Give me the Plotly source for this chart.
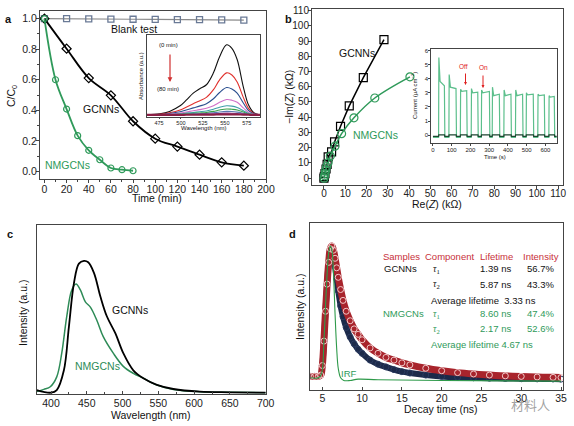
import plotly.graph_objects as go

W, H = 574, 426
def px(x): return x / W
def py(y): return 1 - y / H

FONT = "Arial, Liberation Sans, sans-serif"
GREEN = "#2f9a5a"
RED = "#c8303a"

# ---------------- Panel a data ----------------
time_blank = [0, 20, 40, 60, 80, 100, 120, 140, 160, 180]
cc_blank = [1.0, 1.0, 0.998, 0.997, 0.996, 0.995, 0.994, 0.993, 0.992, 0.99]
time_gcnn = [0, 20, 40, 60, 80, 100, 120, 140, 160, 180]
cc_gcnn = [1.0, 0.803, 0.611, 0.498, 0.328, 0.214, 0.162, 0.109, 0.059, 0.037]
time_nmg = [0, 10, 20, 30, 40, 50, 60, 70, 80]
cc_nmg = [1.0, 0.60, 0.408, 0.234, 0.138, 0.076, 0.022, 0.011, 0.004]

# inset a: absorbance spectra 0..80 min
wl_abs = [461, 476, 487, 499, 506, 514, 521, 529, 537, 544, 552, 558, 564, 571, 577, 583, 590]
abs_spectra = {
    "0 min":  [0, 0.015, 0.05, 0.13, 0.21, 0.31, 0.37, 0.43, 0.6, 0.83, 1.0, 0.95, 0.79, 0.40, 0.14, 0.03, 0],
    "10 min": [0, 0.01, 0.03, 0.07, 0.11, 0.16, 0.2, 0.25, 0.36, 0.5, 0.6, 0.57, 0.47, 0.25, 0.09, 0.02, 0],
    "20 min": [0, 0.005, 0.02, 0.045, 0.07, 0.1, 0.125, 0.16, 0.23, 0.32, 0.39, 0.37, 0.31, 0.17, 0.06, 0.015, 0],
    "30 min": [0, 0.003, 0.01, 0.025, 0.04, 0.06, 0.075, 0.095, 0.13, 0.18, 0.22, 0.21, 0.18, 0.1, 0.035, 0.01, 0],
    "40 min": [0, 0, 0.006, 0.015, 0.025, 0.035, 0.045, 0.055, 0.08, 0.11, 0.13, 0.125, 0.105, 0.06, 0.02, 0.005, 0],
    "50 min": [0, 0, 0.004, 0.01, 0.016, 0.022, 0.028, 0.035, 0.05, 0.07, 0.085, 0.08, 0.07, 0.04, 0.015, 0.004, 0],
    "60 min": [0, 0, 0.002, 0.006, 0.01, 0.013, 0.017, 0.021, 0.03, 0.042, 0.05, 0.048, 0.04, 0.024, 0.009, 0.002, 0],
    "70 min": [0, 0, 0.001, 0.003, 0.005, 0.007, 0.009, 0.011, 0.015, 0.021, 0.025, 0.024, 0.02, 0.012, 0.005, 0.001, 0],
    "80 min": [0, 0, 0, 0.001, 0.002, 0.002, 0.003, 0.004, 0.005, 0.007, 0.008, 0.008, 0.007, 0.004, 0.002, 0, 0],
}
abs_colors = ["#111111", "#e0302c", "#2a4f8f", "#d070c8", "#3f9fa8", "#3aa04a", "#5a78b0", "#8a3a9a", "#8a1f45"]

# ---------------- Panel b data ----------------
re_gcnn = [0, 0.2, 0.5, 1.0, 1.5, 2.0, 3.6, 5.0, 7.8, 11.9, 18.5, 28.2]
im_gcnn = [0, 1, 3, 6, 9, 14, 17.3, 23.8, 34, 47.4, 66, 90.9]
re_nmg = [0.1, 0.3, 0.5, 0.8, 1.25, 2.0, 3.0, 5.2, 8.3, 14.1, 23.9, 40.4]
im_nmg = [0, 1.5, 3, 5, 7.5, 10.2, 14.5, 21, 29.2, 39.6, 52.6, 66.5]

# inset b: photocurrent on/off cycles (read per cycle)
on_times = [30, 85, 146, 204, 258, 316, 378, 440, 497, 559, 618]
off_times = [62, 124, 181, 240, 302, 355, 417, 479, 536, 595, 648]
spike_vals = [5.5, 4.3, 3.25, 3.3, 3.2, 3.4, 3.2, 3.2, 3.0, 2.9, 2.8]
mid_vals = [3.8, 3.4, 3.1, 3.0, 3.0, 2.8, 2.8, 2.8, 2.85, 2.8, 2.7]
end_vals = [3.5, 3.3, 3.15, 3.05, 3.1, 2.9, 2.9, 2.9, 2.9, 2.85, 2.75]
base_light = -0.15
base_dark_off = -0.08
base_dark_on = 0.03
t_end = 665

# ---------------- Panel c data ----------------
wl_pl_g = [380, 400, 408, 418, 425, 432, 439, 446, 452, 460, 469, 478, 490, 501, 515, 529, 548, 571, 608, 650, 700]
pl_gcnn = [0.02, 0.0, 0.02, 0.17, 0.5, 0.83, 0.98, 1.0, 0.99, 0.91, 0.73, 0.58, 0.45, 0.3, 0.17, 0.11, 0.06, 0.028, 0.008, 0.003, 0.0]
wl_pl_n = [380, 390, 399, 408, 415, 422, 429, 435, 441, 448, 455, 464, 473, 487, 501, 515, 529, 548, 571, 608, 650, 700]
pl_nmg = [0.008, 0.025, 0.045, 0.12, 0.3, 0.58, 0.78, 0.825, 0.78, 0.69, 0.65, 0.55, 0.425, 0.3, 0.2, 0.147, 0.11, 0.058, 0.025, 0.008, 0.003, 0.0]

# ---------------- Panel d data ----------------
t_decay = [3.5, 4.0, 4.5, 4.8, 5.0, 5.2, 5.4, 5.6, 5.8, 6.0, 6.2, 6.4, 6.6, 6.8, 7.0, 7.3, 7.6, 8.0, 8.5, 9.0, 9.5, 10.0, 11.0, 12.0, 13.0, 14.0, 15.0, 16.0, 18.0, 20.0, 22.0, 24.0, 26.0, 28.0, 30.0, 32.0, 34.0, 35.0]
dec_nmg = [0.04, 0.04, 0.04, 0.05, 0.12, 0.3, 0.52, 0.72, 0.88, 0.98, 1.0, 0.97, 0.91, 0.84, 0.77, 0.68, 0.6, 0.52, 0.45, 0.39, 0.35, 0.31, 0.25, 0.21, 0.18, 0.16, 0.14, 0.125, 0.1, 0.082, 0.068, 0.058, 0.05, 0.044, 0.04, 0.036, 0.033, 0.032]
dec_gcnn = [0.04, 0.04, 0.04, 0.05, 0.12, 0.3, 0.52, 0.72, 0.88, 0.97, 0.98, 0.93, 0.85, 0.76, 0.67, 0.56, 0.48, 0.4, 0.33, 0.28, 0.24, 0.21, 0.16, 0.13, 0.11, 0.09, 0.075, 0.065, 0.05, 0.04, 0.034, 0.03, 0.027, 0.025, 0.023, 0.022, 0.021, 0.02]
t_irf = [3.5, 4.5, 4.9, 5.2, 5.5, 5.8, 6.0, 6.2, 6.4, 6.6, 6.8, 7.0, 7.3, 7.7, 8.5, 9.5, 12, 20, 35]
irf = [0.03, 0.03, 0.06, 0.3, 0.68, 0.95, 1.0, 0.97, 0.8, 0.5, 0.25, 0.1, 0.03, 0.01, 0.01, 0.02, 0.015, 0.01, 0.005]

fig = go.Figure()

# ---- panel a ----
fig.add_trace(go.Scatter(x=time_blank, y=cc_blank, mode="lines+markers", xaxis="x", yaxis="y",
    line=dict(color="#8a8a8a", width=1.2),
    marker=dict(symbol="square-open", size=6, color="#6a7a96", line=dict(width=1.3))))
fig.add_trace(go.Scatter(x=time_gcnn, y=cc_gcnn, mode="lines+markers", xaxis="x", yaxis="y",
    line=dict(color="black", width=1.8, shape="spline"),
    marker=dict(symbol="diamond-open", size=7, color="black", line=dict(width=1.2))))
fig.add_trace(go.Scatter(x=time_nmg, y=cc_nmg, mode="lines+markers", xaxis="x", yaxis="y",
    line=dict(color=GREEN, width=1.8, shape="spline"),
    marker=dict(symbol="circle-open", size=6, color=GREEN, line=dict(width=1.2))))

# ---- inset a ----
for (name, vals), col in zip(abs_spectra.items(), abs_colors):
    fig.add_trace(go.Scatter(x=wl_abs, y=vals, mode="lines", xaxis="x2", yaxis="y2",
        line=dict(color=col, width=2.2 if name == "80 min" else 1.1, shape="spline")))

# ---- panel b ----
fig.add_trace(go.Scatter(x=re_gcnn, y=im_gcnn, mode="lines+markers", xaxis="x3", yaxis="y3",
    line=dict(color="black", width=1.5),
    marker=dict(symbol="square-open", size=8, color="black", line=dict(width=1.2))))
fig.add_trace(go.Scatter(x=re_nmg, y=im_nmg, mode="lines+markers", xaxis="x3", yaxis="y3",
    line=dict(color=GREEN, width=1.5, shape="spline"),
    marker=dict(symbol="circle-open", size=8, color=GREEN, line=dict(width=1.2))))

# ---- inset b ----
tl, vl, td, vd = [0], [base_light], [0], [base_dark_off]
for on, off, sp, md, en in zip(on_times, off_times, spike_vals, mid_vals, end_vals):
    tl += [on, on + 1.5, on + 8, off - 1, off + 1.5]
    vl += [base_light, sp, md, en, base_light]
    td += [on, on + 1, off, off + 1]
    vd += [base_dark_off, base_dark_on, base_dark_on, base_dark_off]
tl.append(t_end); vl.append(base_light)
td.append(t_end); vd.append(base_dark_off)
fig.add_trace(go.Scatter(x=tl, y=vl, mode="lines", xaxis="x4", yaxis="y4",
    line=dict(color="#5cbf8c", width=1.2)))
fig.add_trace(go.Scatter(x=td, y=vd, mode="lines", xaxis="x4", yaxis="y4",
    line=dict(color="#1d4630", width=1.2)))

# ---- panel c ----
fig.add_trace(go.Scatter(x=wl_pl_n, y=pl_nmg, mode="lines", xaxis="x5", yaxis="y5",
    line=dict(color="#2e8b57", width=1.5, shape="spline")))
fig.add_trace(go.Scatter(x=wl_pl_g, y=pl_gcnn, mode="lines", xaxis="x5", yaxis="y5",
    line=dict(color="black", width=1.8, shape="spline")))

# ---- panel d ----
fig.add_trace(go.Scatter(x=t_decay, y=dec_gcnn, mode="lines+markers", xaxis="x6", yaxis="y6",
    line=dict(color="#1c2a4a", width=6, shape="spline"),
    marker=dict(symbol="circle-open", size=6, color="#2a3a60", line=dict(width=1))))
fig.add_trace(go.Scatter(x=t_decay, y=dec_nmg, mode="lines+markers", xaxis="x6", yaxis="y6",
    line=dict(color="#a8242c", width=7, shape="spline"),
    marker=dict(symbol="circle-open", size=6, color="#f0c8c8", line=dict(width=1))))
fig.add_trace(go.Scatter(x=t_irf, y=irf, mode="lines", xaxis="x6", yaxis="y6",
    line=dict(color="#2e9a4a", width=1.1, shape="spline")))

def ax(domain, rng, dtick=None, size=10.5, ticks="outside", showlabels=True, anchor=None,
       ticklen=3, minor=None, tickvals=None, standoff=-3):
    d = dict(domain=domain, range=rng, showline=True, mirror=True, linecolor="#444", linewidth=1,
             showgrid=False, zeroline=False, ticks=ticks, automargin=False,
             ticklen=ticklen, tickcolor="#444", tickfont=dict(size=size, color="#222", family=FONT),
             showticklabels=showlabels, anchor=anchor, ticklabelstandoff=standoff)
    if dtick is not None:
        d["dtick"] = dtick
        d["tick0"] = 0
    if tickvals is not None:
        d["tickvals"] = tickvals
    if minor:
        d["minor"] = dict(dtick=minor, ticks=ticks, ticklen=2, tickcolor="#444")
    return d

layout = dict(
    width=W, height=H, margin=dict(l=0, r=0, t=0, b=0),
    paper_bgcolor="white", plot_bgcolor="rgba(0,0,0,0)", showlegend=False,
    font=dict(family=FONT, color="#222"),
)
layout["xaxis"] = ax([px(40), px(266)], [-4, 200], 20, anchor="y", minor=10)
layout["yaxis"] = ax([py(179), py(11)], [-0.05, 1.05], 0.2, anchor="x", minor=0.1)
layout["yaxis"]["tickformat"] = ".1f"
layout["xaxis2"] = ax([px(146.7), px(260)], [461, 590], None, size=5.5, anchor="y2",
                      ticklen=1, tickvals=[475, 500, 525, 550, 575], standoff=-1)
layout["yaxis2"] = ax([py(117), py(35)], [-0.03, 1.14], None, size=6, anchor="x2",
                      showlabels=False, ticks="", standoff=0)
layout["xaxis3"] = ax([px(312), px(563)], [-5.6, 112.3], 10, size=10, anchor="y3", standoff=-4)
layout["yaxis3"] = ax([py(185), py(9)], [-4.5, 111], 10, size=10, anchor="x3")
layout["xaxis4"] = ax([px(430.7), px(556.7)], [-12, 660], 100, size=6, anchor="y4", ticklen=1.5, standoff=-1)
layout["yaxis4"] = ax([py(143), py(49)], [-0.55, 6.1], 1, size=6, anchor="x4", ticklen=1.5, standoff=-1)
layout["xaxis5"] = ax([px(36.7), px(265.7)], [380, 700], 50, anchor="y5", ticks="inside", minor=25, standoff=-1)
layout["yaxis5"] = ax([py(394), py(225)], [-0.01, 1.273], None, anchor="x5", showlabels=False, ticks="", standoff=0)
layout["xaxis6"] = ax([px(310), px(563)], [3.45, 35.25], 5, anchor="y6", ticks="inside", standoff=-2)
layout["yaxis6"] = ax([py(390), py(223)], [-0.06, 1.17], None, anchor="x6", showlabels=False, ticks="", standoff=0)

fig.update_layout(**layout)

ann = []
def label(x, y, text, color="#111", size=10.5, bold=False, xanchor="center", family=FONT, angle=0):
    ann.append(dict(x=px(x), y=py(y), xref="paper", yref="paper", text=("<b>%s</b>" % text) if bold else text,
                    showarrow=False, xanchor=xanchor, yanchor="middle", textangle=angle,
                    font=dict(size=size, color=color, family=family)))

# panel letters
label(8, 19, "a", bold=True, size=11)
label(288, 19, "b", bold=True, size=11)
label(10, 234, "c", bold=True, size=11)
label(292, 234, "d", bold=True, size=11)

# axis titles
label(157, 198, "Time (min)")
label(12, 96, "C/C<sub>0</sub>", angle=-90)
label(203, 128, "Wavelength (nm)", size=6)
label(141, 76, "Absorbance (a.u.)", size=6, angle=-90)
label(437, 204, "Re(<i>Z</i>) (kΩ)")
label(289, 97, "−Im(<i>Z</i>) (kΩ)", angle=-90)
label(495, 157, "Time (s)", size=6)
label(414, 96, "Current (μA cm<sup>−2</sup>)", size=6, angle=-90)
label(151, 415, "Wavelength (nm)")
label(23, 313, "Intensity (a.u.)", angle=-90)
label(441, 409, "Decay time (ns)")
label(300, 307, "Intensity (a.u.)", angle=-90)

# panel a labels
label(134, 29, "Blank test")
label(101, 109, "GCNNs")
label(67, 165, "NMGCNs", color=GREEN)
label(168, 45, "(0 min)", size=6)
label(168, 89, "(80 min)", size=6)
ann.append(dict(x=px(170), y=py(82), xref="paper", yref="paper", ax=0, ay=-29, text="",
                showarrow=True, arrowhead=2, arrowsize=0.8, arrowwidth=1.2, arrowcolor="#d03030"))

# panel b labels
label(357, 53, "GCNNs")
label(376, 135, "NMGCNs", color=GREEN)
label(463, 66, "Off", color="#e02020", size=6.5)
label(483, 68, "On", color="#e02020", size=6.5)
ann.append(dict(x=px(465.5), y=py(85), xref="paper", yref="paper", ax=0, ay=-13, text="",
                showarrow=True, arrowhead=2, arrowsize=0.6, arrowwidth=1, arrowcolor="#e02020"))
ann.append(dict(x=px(483), y=py(88), xref="paper", yref="paper", ax=0, ay=-14, text="",
                showarrow=True, arrowhead=2, arrowsize=0.6, arrowwidth=1, arrowcolor="#e02020"))

# panel c labels
label(130, 310, "GCNNs")
label(97, 366, "NMGCNs", color="#2e8b57")

# panel d labels / table
TAB = 9.5
SERIF = "Liberation Serif, Times New Roman, serif"
label(401, 256, "Samples", color=RED, size=TAB)
label(449, 256, "Component", color=RED, size=TAB)
label(496, 256, "Lifetime", color=RED, size=TAB)
label(541, 256, "Intensity", color=RED, size=TAB)
label(400, 268, "GCNNs", size=TAB)
label(436, 269, "<i>τ</i><sub>1</sub>", size=TAB, family=SERIF)
label(495, 268, "1.39 ns", size=TAB)
label(540, 268, "56.7%", size=TAB)
label(436, 284, "<i>τ</i><sub>2</sub>", size=TAB, family=SERIF)
label(495, 284, "5.87 ns", size=TAB)
label(540, 284, "43.3%", size=TAB)
label(483, 300, "Average lifetime  3.33 ns", size=TAB)
label(403, 313, "NMGCNs", color=GREEN, size=TAB)
label(436, 314, "<i>τ</i><sub>1</sub>", color=GREEN, size=TAB, family=SERIF)
label(495, 313, "8.60 ns", color=GREEN, size=TAB)
label(540, 313, "47.4%", color=GREEN, size=TAB)
label(436, 329, "<i>τ</i><sub>2</sub>", color=GREEN, size=TAB, family=SERIF)
label(495, 328, "2.17 ns", color=GREEN, size=TAB)
label(540, 328, "52.6%", color=GREEN, size=TAB)
label(482, 344, "Average lifetime 4.67 ns", color=GREEN, size=TAB)
label(349, 373, "IRF", color=GREEN, size=TAB)

# watermark
label(530, 404, "材料人", color="rgba(120,120,120,0.7)", size=13, family="Noto Sans CJK SC")

fig.update_layout(annotations=ann)

# white backgrounds for insets
fig.update_layout(shapes=[
    dict(type="rect", xref="paper", yref="paper", x0=px(146.7), x1=px(260), y0=py(117), y1=py(35),
         fillcolor="white", line=dict(width=0), layer="below"),
    dict(type="rect", xref="paper", yref="paper", x0=px(430.7), x1=px(556.7), y0=py(143), y1=py(49),
         fillcolor="white", line=dict(width=0), layer="below"),
])

fig.write_html("out.html", config={"displayModeBar": False}, post_script=(
    "document.body.style.margin='0px';document.body.style.padding='0px';"
    "document.documentElement.style.overflow='hidden';"))
